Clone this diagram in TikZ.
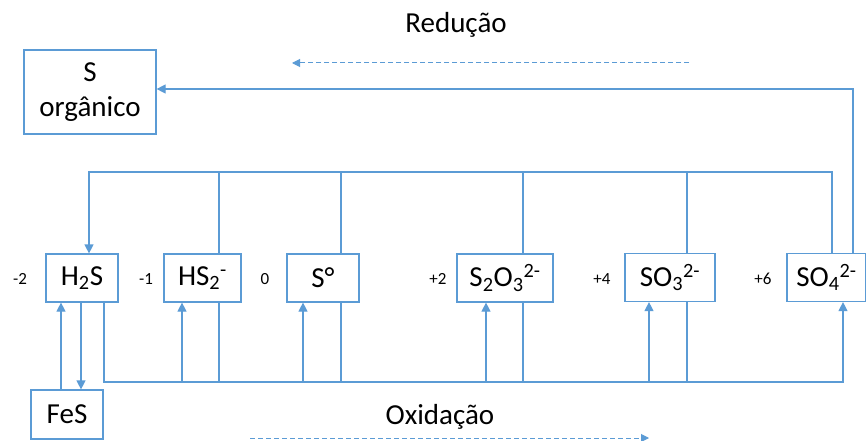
\documentclass[tikz,border=0pt]{standalone}
\usepackage{fontspec}
\setmainfont{Carlito}
\usetikzlibrary{arrows.meta}
\definecolor{ln}{HTML}{5B9BD5}
\begin{document}
\begin{tikzpicture}[x=1pt,y=-1pt,
  box/.style={draw=ln,line width=1.2pt,inner sep=0pt,font=\fontsize{29}{35}\selectfont},
  lab/.style={font=\fontsize{17}{20}\selectfont,inner sep=0pt},
  ttl/.style={font=\fontsize{29}{33}\selectfont,inner sep=0pt},
  line/.style={draw=ln,line width=1.2pt},
  arr/.style={line,-{Triangle[length=9pt,width=9pt]}},
  darr/.style={draw=ln,line width=1pt,dash pattern=on 5pt off 3pt,-{Triangle[length=8pt,width=8pt]}}]
\useasboundingbox (0,0) rectangle (866,441);
% boxes
\node[box,minimum width=132pt,minimum height=84pt,align=center] (sorg) at (90,92) {S\\orgânico};
\node[box,minimum width=72pt,minimum height=48pt] (h2s) at (82,278) {H\textsubscript{2}S};
\node[box,minimum width=77pt,minimum height=48pt] (hs2) at (202.5,278) {HS\textsubscript{2}\textsuperscript{-}};
\node[box,minimum width=72pt,minimum height=48pt] (s0) at (323,278) {S°};
\node[box,minimum width=96pt,minimum height=48pt] (s2o3) at (505,278) {S\textsubscript{2}O\textsubscript{3}\textsuperscript{2-}};
\node[box,minimum width=90pt,minimum height=48pt] (so3) at (670,277.5) {SO\textsubscript{3}\textsuperscript{2-}};
\node[box,minimum width=79pt,minimum height=48pt] (so4) at (826.5,277.5) {SO\textsubscript{4}\textsuperscript{2-}};
\node[box,minimum width=72pt,minimum height=49pt] (fes) at (67,414.5) {FeS};
% oxidation states
\node[lab] (m2) at (20,279) {-2};
\node[lab] (m1) at (146,279) {-1};
\node[lab] (z0) at (265,279) {0};
\node[lab] (p2) at (438,279) {+2};
\node[lab] (p4) at (602,279) {+4};
\node[lab] (p6) at (763,279) {+6};
% titles
\node[ttl] (red) at (456,25) {Redução};
\node[ttl] (oxi) at (440,417) {Oxidação};
\coordinate (r1) at (689,63);
\coordinate (r2) at (292,63);
\coordinate (o1) at (250,438);
\coordinate (o2) at (649,438);
\draw[darr] (r1) -- (r2);
\draw[darr] (o1) -- (o2);
% buses
\coordinate (tb) at (0,172);
\coordinate (bb) at (0,382);
% to S organico
\draw[arr] ([xshift=26.5pt]so4.north) |- ([yshift=3pt]sorg.east);
% reduction bus
\draw[arr] ([xshift=5.5pt]so4.north) -- ([xshift=5.5pt]so4.north |- tb) -| ([xshift=7pt]h2s.north);
\draw[line] ([xshift=16.5pt]hs2.north) -- ([xshift=16.5pt]hs2.north |- tb);
\draw[line] ([xshift=18pt]s0.north) -- ([xshift=18pt]s0.north |- tb);
\draw[line] ([xshift=18pt]s2o3.north) -- ([xshift=18pt]s2o3.north |- tb);
\draw[line] ([xshift=17pt]so3.north) -- ([xshift=17pt]so3.north |- tb);
% oxidation bus
\draw[arr] ([xshift=22pt]h2s.south) |- ([xshift=16.5pt]so4.south |- bb) -- ([xshift=16.5pt]so4.south);
\draw[line] ([xshift=16.5pt]hs2.south) -- ([xshift=16.5pt]hs2.south |- bb);
\draw[line] ([xshift=18pt]s0.south) -- ([xshift=18pt]s0.south |- bb);
\draw[line] ([xshift=18pt]s2o3.south) -- ([xshift=18pt]s2o3.south |- bb);
\draw[line] ([xshift=17pt]so3.south) -- ([xshift=17pt]so3.south |- bb);
\draw[arr] ([xshift=-20.5pt]hs2.south |- bb) -- ([xshift=-20.5pt]hs2.south);
\draw[arr] ([xshift=-20pt]s0.south |- bb) -- ([xshift=-20pt]s0.south);
\draw[arr] ([xshift=-19pt]s2o3.south |- bb) -- ([xshift=-19pt]s2o3.south);
\draw[arr] ([xshift=-21pt]so3.south |- bb) -- ([xshift=-21pt]so3.south);
% FeS
\draw[arr] ([xshift=-6pt]fes.north) -- ([xshift=-6pt]fes.north |- h2s.south);
\draw[arr] ([xshift=-1pt]h2s.south) -- ([xshift=-1pt]h2s.south |- fes.north);
\end{tikzpicture}
\end{document}
